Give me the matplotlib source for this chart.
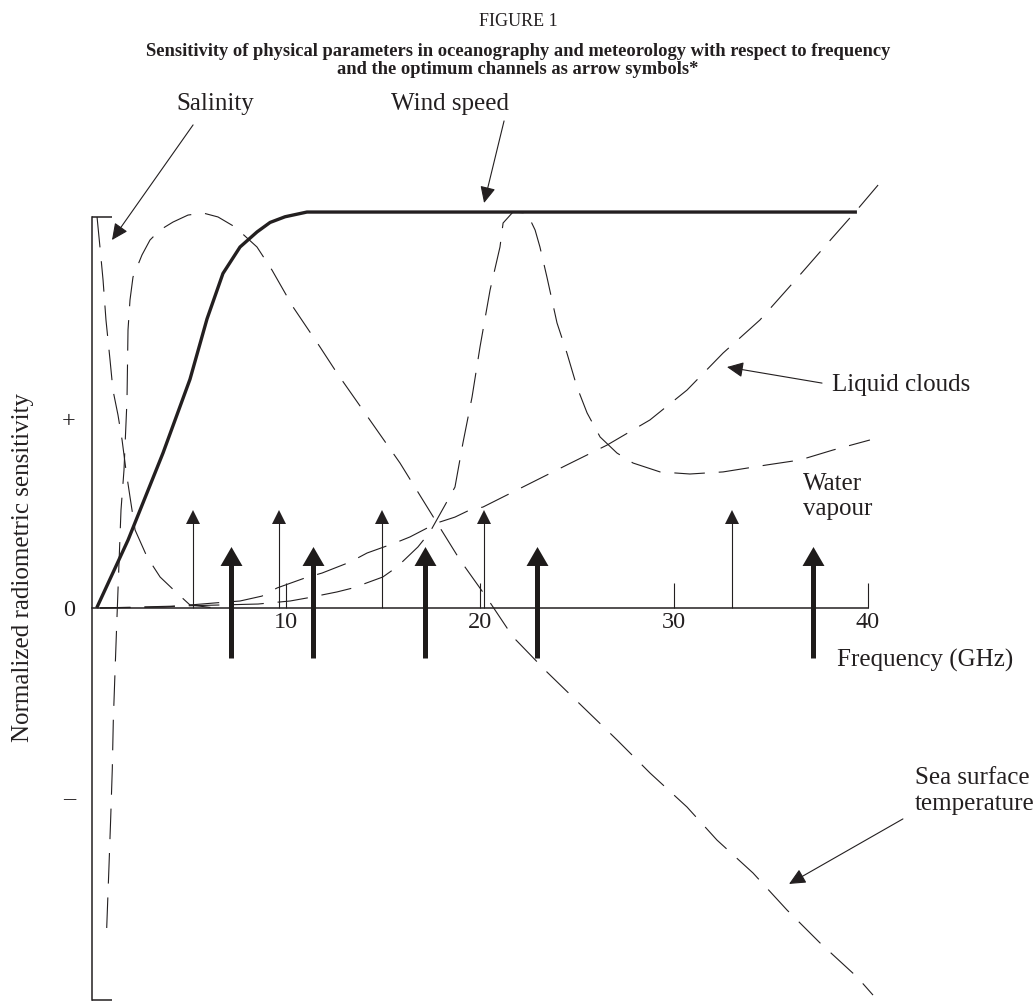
import matplotlib
matplotlib.use("Agg")
import matplotlib.pyplot as plt
from matplotlib.transforms import offset_copy

# ---------------- data (frequency in GHz, normalized sensitivity: "+" = 1, "-" = -1) -------------
wind_f = [0.24, 1.86, 3.66, 5.05, 5.93, 6.75, 7.63, 8.51, 9.18, 9.95, 11.08, 39.43]
wind_s = [0.0, 0.36, 0.82, 1.21, 1.53, 1.77, 1.91, 1.99, 2.04, 2.07, 2.095, 2.095]

sal_f = [0.26, 0.41, 0.57, 0.72, 0.93, 1.08, 1.34, 1.55, 1.75, 1.96, 2.22, 2.84, 3.51, 4.38, 5.05, 6.34]
sal_s = [2.069, 1.910, 1.735, 1.524, 1.312, 1.153, 1.021, 0.889, 0.730, 0.587, 0.413, 0.270, 0.164, 0.079, 0.016, 0.0]

sst_f = [0.758, 0.876, 0.964, 1.046, 1.098, 1.186, 1.273, 1.392, 1.495, 1.649, 1.804, 1.856, 1.959, 2.113,
         2.577, 2.990, 3.505, 4.175, 4.948, 5.722, 6.495, 7.371, 8.505, 9.278, 10.361, 11.753, 12.629,
         15.876, 17.784, 18.969, 20.361, 21.701, 23.454, 25.309, 27.062, 28.763, 30.670, 32.216, 34.072,
         35.825, 37.526, 39.433, 40.258]
sst_s = [-1.693, -1.365, -1.111, -0.852, -0.598, -0.339, -0.090, 0.238, 0.519, 0.730, 1.101, 1.471, 1.630,
         1.751, 1.868, 1.947, 2.000, 2.042, 2.079, 2.090, 2.069, 2.016, 1.910, 1.788, 1.593, 1.381, 1.243,
         0.767, 0.450, 0.254, 0.053, -0.153, -0.339, -0.524, -0.698, -0.873, -1.053, -1.228, -1.402,
         -1.598, -1.772, -1.952, -2.048]

wv_f = [0.41, 4.69, 8.56, 10.21, 11.08, 12.63, 13.45, 14.99, 15.72, 16.80, 17.42, 18.20, 18.71, 19.12,
        19.59, 20.00, 20.52, 21.03, 21.19, 21.70, 22.42, 22.84, 23.09, 23.45, 23.97, 24.48, 25.00, 25.52,
        26.19, 27.06, 27.89, 29.28, 30.82, 32.53, 34.79, 36.49, 38.20, 40.10]
wv_s = [0.0, 0.011, 0.021, 0.037, 0.053, 0.085, 0.106, 0.164, 0.217, 0.323, 0.402, 0.545, 0.640, 0.873,
        1.116, 1.381, 1.683, 1.910, 2.037, 2.095, 2.090, 2.000, 1.910, 1.751, 1.508, 1.349, 1.169, 1.032,
        0.905, 0.820, 0.767, 0.720, 0.709, 0.720, 0.757, 0.783, 0.836, 0.889]

lc_f = [0.41, 3.76, 6.24, 7.63, 8.76, 9.54, 10.98, 11.86, 13.30, 14.18, 15.62, 16.39, 17.78, 18.71,
        19.48, 20.15, 22.42, 24.48, 26.55, 28.76, 30.67, 32.53, 34.43, 36.13, 38.20, 39.43, 40.52]
lc_s = [0.0, 0.005, 0.026, 0.037, 0.063, 0.106, 0.159, 0.185, 0.243, 0.291, 0.344, 0.376, 0.450, 0.481,
        0.519, 0.534, 0.651, 0.757, 0.862, 0.995, 1.153, 1.349, 1.524, 1.720, 1.963, 2.106, 2.238]

# channel arrows
thin_f = [5.21, 9.65, 14.93, 20.21, 32.99]
thin_tip = 0.519
thick_f = [7.16, 11.41, 17.16, 22.94, 37.16]
thick_tip = 0.323
thick_base = -0.265

xticks = [10, 20, 30, 40]
xtick_labels = ["10", "20", "30", "40"]
yticks = [1, 0, -1]
ytick_labels = ["+", "0", "\u2013"]
y_top, y_bottom = 2.069, -2.074

title0 = "FIGURE 1"
title1 = "Sensitivity of physical parameters in oceanography and meteorology with respect to frequency"
title2 = "and the optimum channels as arrow symbols*"

# ---------------- figure ----------------
plt.rcParams["font.family"] = ["Liberation Serif", "DejaVu Serif"]
plt.rcParams["lines.scale_dashes"] = False
INK = "#231f20"
W, H = 1036, 1001
X0, Y0 = 92, 608          # pixel position of the origin
XPX, YPX = 19.4, 189.0    # pixels per unit
FS = 18
TFS = 17.5

fig = plt.figure(figsize=(W / 100, H / 100), dpi=100)
ax = fig.add_axes([0, 0, 1, 1])
ax.set_xlim(-X0 / XPX, (W - X0) / XPX)
ax.set_ylim((Y0 - H) / YPX, Y0 / YPX)
PXY = 1.0 / YPX

for sp in ["top", "right"]:
    ax.spines[sp].set_visible(False)
ax.spines["left"].set_position(("data", 0))
ax.spines["left"].set_bounds(y_bottom, y_top)
ax.spines["bottom"].set_position(("data", 0))
ax.spines["bottom"].set_bounds(0, 40)
for sp in ["left", "bottom"]:
    ax.spines[sp].set_color(INK)
    ax.spines[sp].set_linewidth(1.1)
ax.set_xticks(xticks)
ax.set_xticklabels(xtick_labels)
ax.set_yticks(yticks)
ax.set_yticklabels(ytick_labels)
ax.tick_params(axis="x", direction="in", length=18, width=0.8, colors=INK, labelsize=TFS, pad=3)
ax.tick_params(axis="y", length=0, colors=INK, labelsize=TFS, pad=12)

# caps on the vertical axis
ax.plot([0, 1.03], [y_top, y_top], color=INK, lw=1.1, solid_capstyle="butt")
ax.plot([0, 1.03], [y_bottom, y_bottom], color=INK, lw=1.1, solid_capstyle="butt")

# curves
dash = (22, 10)
for f, s in [(sal_f, sal_s), (sst_f, sst_s), (wv_f, wv_s), (lc_f, lc_s)]:
    ax.plot(f, s, color=INK, lw=0.8, dashes=dash, clip_on=False)
ax.plot(wind_f, wind_s, color=INK, lw=2.4, solid_capstyle="butt", solid_joinstyle="round", zorder=3)

# channel arrows
thin_head_h = 14
thin_off = offset_copy(ax.transData, fig=fig, y=-thin_head_h / 2, units="dots")
for f in thin_f:
    ax.plot([f, f], [0, thin_tip - (thin_head_h - 2) * PXY], color=INK, lw=0.8, solid_capstyle="butt")
    ax.plot([f], [thin_tip], marker="^", ms=10.1, mew=0, color=INK, transform=thin_off)

thick_head_h = 19
thick_marker = [(0, 9.5), (-11, -9.5), (11, -9.5), (0, 9.5)]
thick_off = offset_copy(ax.transData, fig=fig, y=-thick_head_h / 2, units="dots")
for f in thick_f:
    ax.plot([f, f], [thick_base, thick_tip - (thick_head_h - 2) * PXY], color="#1e1b1a", lw=3.6,
            solid_capstyle="butt", zorder=4)
    ax.plot([f], [thick_tip], marker=thick_marker, ms=15.8, mew=0, color="#1e1b1a", transform=thick_off,
            zorder=4)

# annotation labels and arrows
ap = dict(arrowstyle="-|>,head_length=1.0,head_width=0.47", mutation_scale=10, lw=0.8, color=INK,
          shrinkA=0, shrinkB=0)
ax.annotate("", xy=(1.03, 1.947), xytext=(5.21, 2.556), arrowprops=ap)
ax.annotate("", xy=(20.21, 2.143), xytext=(21.24, 2.577), arrowprops=ap)
ax.annotate("", xy=(32.73, 1.275), xytext=(37.63, 1.190), arrowprops=ap, annotation_clip=False)
ax.annotate("", xy=(35.93, -1.460), xytext=(41.80, -1.116), arrowprops=ap, annotation_clip=False)

ax.text(6.34, 2.667, "Salinity", fontsize=FS, ha="center", va="center", color=INK)
ax.text(18.45, 2.667, "Wind speed", fontsize=FS, ha="center", va="center", color=INK)
ax.text(38.14, 1.18, "Liquid clouds", fontsize=FS, ha="left", va="center", color=INK)
ax.text(36.65, 0.590, "Water\nvapour", fontsize=FS, ha="left", va="center", color=INK, linespacing=1.2)
ax.text(38.40, -0.275, "Frequency (GHz)", fontsize=FS, ha="left", va="center", color=INK)
ax.text(42.42, -0.968, "Sea surface\ntemperature", fontsize=FS, ha="left", va="center", color=INK,
        linespacing=1.2)

fig.text(23 / W, 1 - 567 / H, "Normalized radiometric sensitivity", rotation=90, fontsize=FS,
         ha="center", va="center", color=INK)

fig.text(0.5, 1 - 22 / H, title0, fontsize=13, ha="center", va="center", color=INK)
fig.text(0.5, 1 - 51 / H, title1, fontsize=13.3, fontweight="bold", ha="center", va="center", color=INK)
fig.text(0.5, 1 - 69 / H, title2, fontsize=13.3, fontweight="bold", ha="center", va="center", color=INK)

fig.savefig("out.png", dpi=100)
